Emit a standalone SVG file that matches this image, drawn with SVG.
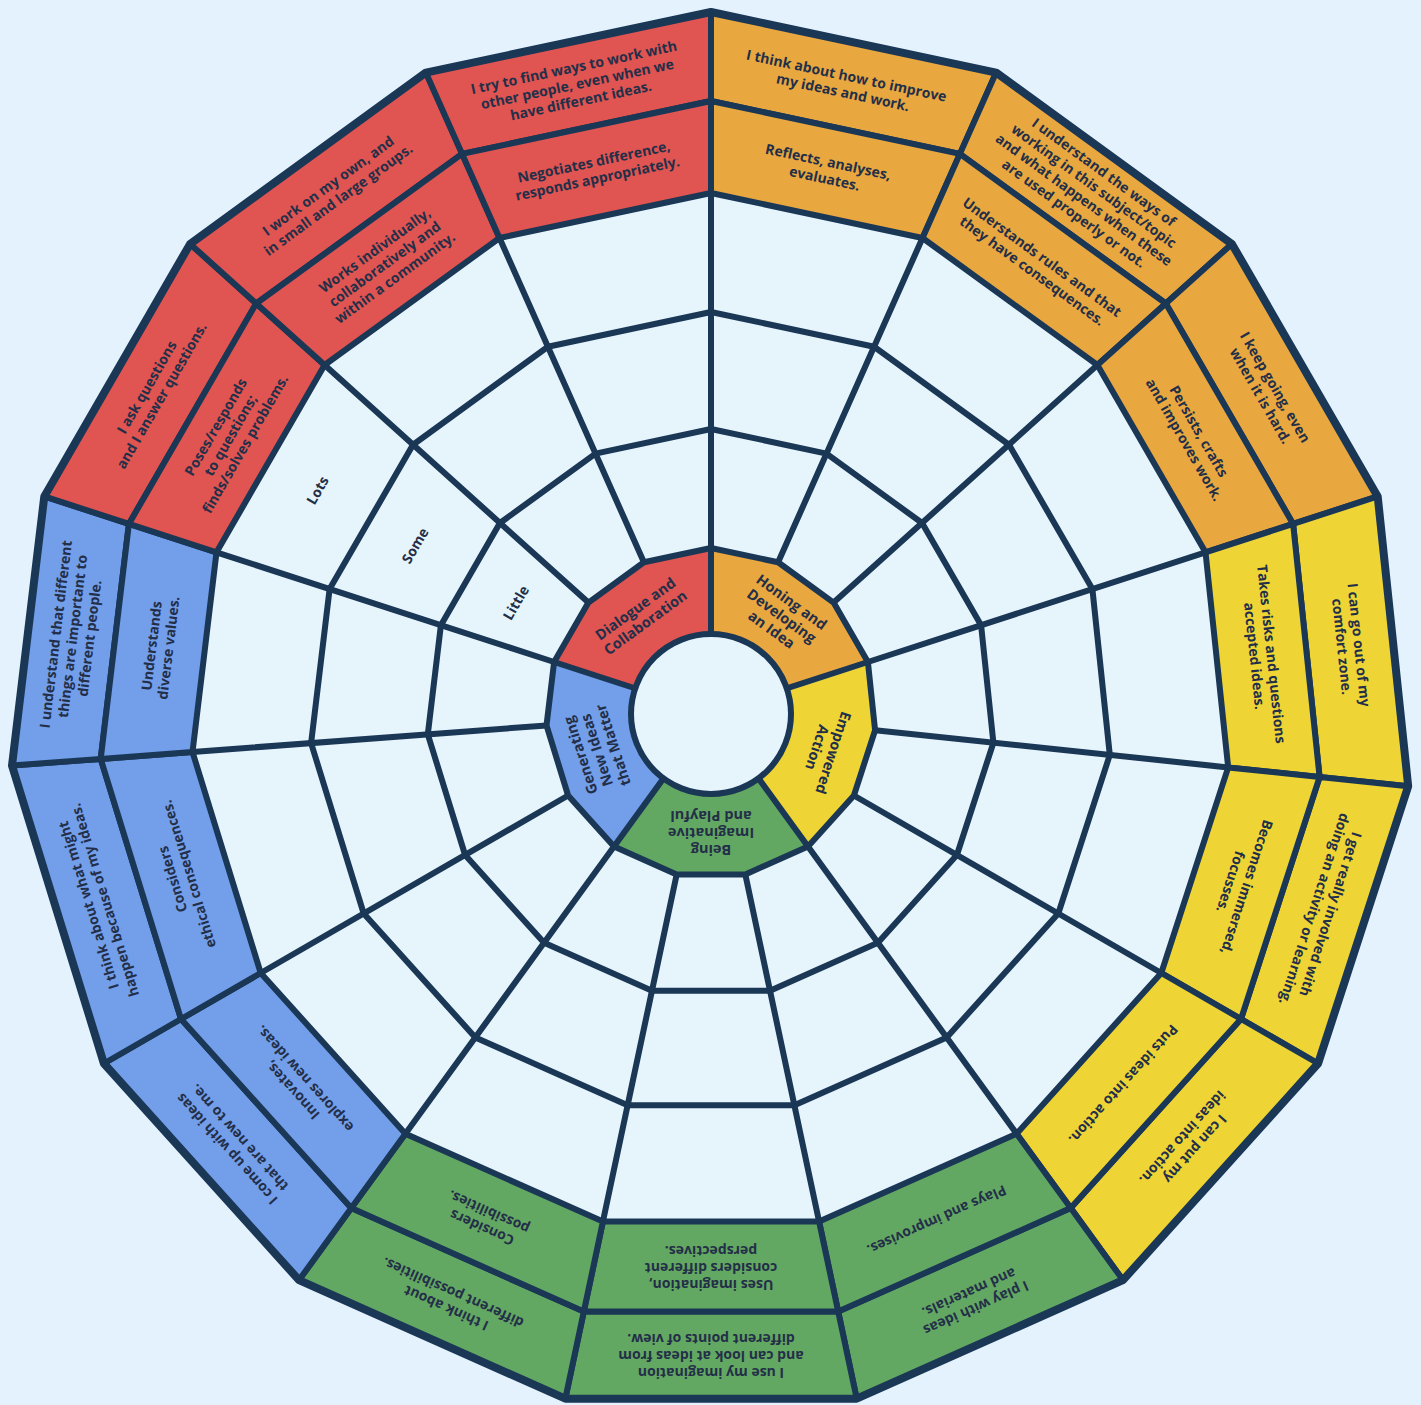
<svg xmlns="http://www.w3.org/2000/svg" width="1421" height="1405" viewBox="0 0 1421 1405">
<style>
.cell{stroke:#1b3756;stroke-width:6;stroke-linejoin:round}
.red{fill:#e05451}.org{fill:#e9a740}.yel{fill:#eed535}.grn{fill:#63a862}.blu{fill:#729eea}
.line{fill:none;stroke:#1b3756;stroke-width:6;stroke-linejoin:round;stroke-linecap:round}
.t{font-family:'Open Sans','Liberation Sans',sans-serif;font-weight:700;font-size:14px;fill:#232f48;text-anchor:middle}
.h{font-size:14.5px}
</style>
<rect width="1421" height="1405" fill="#e3f2fc"/>

<g id="web">
<polygon points="711,193 922.5,238 1097.4,365 1205.5,552.3 1228.2,767.4 1161.3,973 1016.6,1133.7 819.1,1221.6 602.9,1221.6 405.4,1133.7 260.7,973 192.5,752 216.5,552.3 324.6,365 499.5,238" fill="#e6f4fc"/>
<polygon class="line" points="711,312 874.1,346.7 1009,444.7 1092.4,589.1 1109.8,754.9 1058.3,913.5 946.7,1037.4 794.4,1105.2 627.6,1105.2 475.3,1037.4 363.7,913.5 311.1,743.1 329.6,589.1 413,444.7 547.9,346.7"/>
<polygon class="line" points="711,429 826.5,453.6 922.1,523 981.1,625.2 993.4,742.7 956.9,855 877.9,942.8 770,990.8 652,990.8 544.1,942.8 465.1,855 427.8,734.3 440.9,625.2 499.9,523 595.5,453.6"/>
<path class="line" d="M711,548 L711,193 M778.1,562.3 L922.5,238 M833.6,602.6 L1097.4,365 M867.9,662 L1205.5,552.3 M875.1,730.2 L1228.2,767.4 M853.9,795.5 L1161.3,973 M808,846.5 L1016.6,1133.7 M745.3,874.4 L819.1,1221.6 M676.7,874.4 L602.9,1221.6 M614,846.5 L405.4,1133.7 M568.1,795.5 L260.7,973 M546.5,725.4 L192.5,752 M554.1,662 L216.5,552.3 M588.4,602.6 L324.6,365 M643.9,562.3 L499.5,238"/>
</g>

<g id="scale">
<text class="t" transform="translate(317.6 490.4) rotate(300)"><tspan x="0" y="5">Lots</tspan></text>
<text class="t" transform="translate(415.1 545.6) rotate(300)"><tspan x="0" y="5">Some</tspan></text>
<text class="t" transform="translate(516 602.7) rotate(300)"><tspan x="0" y="5">Little</tspan></text>
</g>

<g id="honing-developing">
<path class="cell org" d="M711,12 L996.1,72.6 L959.9,153.9 L711,101 Z"/>
<path class="cell org" d="M996.1,72.6 L1231.9,243.9 L1165.8,303.5 L959.9,153.9 Z"/>
<path class="cell org" d="M1231.9,243.9 L1377.7,496.4 L1293.1,523.9 L1165.8,303.5 Z"/>
<path class="cell org" d="M711,101 L959.9,153.9 L922.5,238 L711,193 Z"/>
<path class="cell org" d="M959.9,153.9 L1165.8,303.5 L1097.4,365 L922.5,238 Z"/>
<path class="cell org" d="M1165.8,303.5 L1293.1,523.9 L1205.5,552.3 L1097.4,365 Z"/>
<text class="t" transform="translate(844.7 84) rotate(12)"><tspan x="0" y="-3.5">I think about how to improve</tspan><tspan x="0" y="13.5">my ideas and work.</tspan></text>
<text class="t" transform="translate(1088.9 192.8) rotate(36)"><tspan x="0" y="-20.5">I understand the ways of</tspan><tspan x="0" y="-3.5">working in this subject/topic</tspan><tspan x="0" y="13.5">and what happens when these</tspan><tspan x="0" y="30.5">are used properly or not.</tspan></text>
<text class="t" transform="translate(1267.9 391.5) rotate(60)"><tspan x="0" y="-3.5">I keep going, even</tspan><tspan x="0" y="13.5">when it is hard.</tspan></text>
<text class="t" transform="translate(826.4 170.1) rotate(12)"><tspan x="0" y="-3.5">Reflects, analyses,</tspan><tspan x="0" y="13.5">evaluates.</tspan></text>
<text class="t" transform="translate(1037.2 264) rotate(36)"><tspan x="0" y="-3.5">Understands rules and that</tspan><tspan x="0" y="13.5">they have consequences.</tspan></text>
<text class="t" transform="translate(1191.6 435.5) rotate(60)"><tspan x="0" y="-3.5">Persists, crafts</tspan><tspan x="0" y="13.5">and improves work.</tspan></text>
</g>

<g id="empowered-action">
<path class="cell yel" d="M1377.7,496.4 L1408.2,786.3 L1319.6,777 L1293.1,523.9 Z"/>
<path class="cell yel" d="M1408.2,786.3 L1318.1,1063.5 L1241,1019 L1319.6,777 Z"/>
<path class="cell yel" d="M1318.1,1063.5 L1123,1280.1 L1070.7,1208.1 L1241,1019 Z"/>
<path class="cell yel" d="M1293.1,523.9 L1319.6,777 L1228.2,767.4 L1205.5,552.3 Z"/>
<path class="cell yel" d="M1319.6,777 L1241,1019 L1161.3,973 L1228.2,767.4 Z"/>
<path class="cell yel" d="M1241,1019 L1070.7,1208.1 L1016.6,1133.7 L1161.3,973 Z"/>
<text class="t" transform="translate(1350.5 645.8) rotate(84)"><tspan x="0" y="-3.5">I can go out of my</tspan><tspan x="0" y="13.5">comfort zone.</tspan></text>
<text class="t" transform="translate(1322.5 911.7) rotate(108)"><tspan x="0" y="-3.5">I get really involved with</tspan><tspan x="0" y="13.5">doing an activity or learning.</tspan></text>
<text class="t" transform="translate(1188.8 1143.3) rotate(132)"><tspan x="0" y="-3.5">I can put my</tspan><tspan x="0" y="13.5">ideas into action.</tspan></text>
<text class="t" transform="translate(1263 655) rotate(84)"><tspan x="0" y="-3.5">Takes risks and questions</tspan><tspan x="0" y="13.5">accepted ideas.</tspan></text>
<text class="t" transform="translate(1238.8 884.5) rotate(108)"><tspan x="0" y="-3.5">Becomes immersed,</tspan><tspan x="0" y="13.5">focusses.</tspan></text>
<text class="t" transform="translate(1123.4 1084.4) rotate(132)"><tspan x="0" y="5">Puts ideas into action.</tspan></text>
</g>

<g id="imaginative-playful">
<path class="cell grn" d="M1123,1280.1 L856.7,1398.7 L838.2,1311.6 L1070.7,1208.1 Z"/>
<path class="cell grn" d="M856.7,1398.7 L565.3,1398.7 L583.8,1311.6 L838.2,1311.6 Z"/>
<path class="cell grn" d="M565.3,1398.7 L299,1280.1 L351.3,1208.1 L583.8,1311.6 Z"/>
<path class="cell grn" d="M1070.7,1208.1 L838.2,1311.6 L819.1,1221.6 L1016.6,1133.7 Z"/>
<path class="cell grn" d="M838.2,1311.6 L583.8,1311.6 L602.9,1221.6 L819.1,1221.6 Z"/>
<path class="cell grn" d="M583.8,1311.6 L351.3,1208.1 L405.4,1133.7 L602.9,1221.6 Z"/>
<text class="t" transform="translate(972.5 1300.4) rotate(156)"><tspan x="0" y="-3.5">I play with ideas</tspan><tspan x="0" y="13.5">and materials.</tspan></text>
<text class="t" transform="translate(711 1356) rotate(180)"><tspan x="0" y="-12">I use my imagination</tspan><tspan x="0" y="5">and can look at ideas from</tspan><tspan x="0" y="22">different points of view.</tspan></text>
<text class="t" transform="translate(449.5 1300.4) rotate(204)"><tspan x="0" y="-3.5">I think about</tspan><tspan x="0" y="13.5">different possibilities.</tspan></text>
<text class="t" transform="translate(936.7 1220) rotate(156)"><tspan x="0" y="5">Plays and improvises.</tspan></text>
<text class="t" transform="translate(711 1268) rotate(180)"><tspan x="0" y="-12">Uses imagination,</tspan><tspan x="0" y="5">considers different</tspan><tspan x="0" y="22">perspectives.</tspan></text>
<text class="t" transform="translate(485.3 1220) rotate(204)"><tspan x="0" y="-3.5">Considers</tspan><tspan x="0" y="13.5">possibilities.</tspan></text>
</g>

<g id="generating-new-ideas">
<path class="cell blu" d="M299,1280.1 L103.9,1063.5 L181,1019 L351.3,1208.1 Z"/>
<path class="cell blu" d="M103.9,1063.5 L12,765.6 L100.7,758.9 L181,1019 Z"/>
<path class="cell blu" d="M12,765.6 L44.3,496.4 L128.9,523.9 L100.7,758.9 Z"/>
<path class="cell blu" d="M351.3,1208.1 L181,1019 L260.7,973 L405.4,1133.7 Z"/>
<path class="cell blu" d="M181,1019 L100.7,758.9 L192.5,752 L260.7,973 Z"/>
<path class="cell blu" d="M100.7,758.9 L128.9,523.9 L216.5,552.3 L192.5,752 Z"/>
<text class="t" transform="translate(233.2 1143.3) rotate(228)"><tspan x="0" y="-3.5">I come up with ideas</tspan><tspan x="0" y="13.5">that are new to me.</tspan></text>
<text class="t" transform="translate(96.6 902.6) rotate(252.85)"><tspan x="0" y="-3.5">I think about what might</tspan><tspan x="0" y="13.5">happen because of my ideas.</tspan></text>
<text class="t" transform="translate(72.6 636.3) rotate(276.85)"><tspan x="0" y="-12">I understand that different</tspan><tspan x="0" y="5">things are important to</tspan><tspan x="0" y="22">different people.</tspan></text>
<text class="t" transform="translate(298.6 1084.4) rotate(228)"><tspan x="0" y="-3.5">Innovates,</tspan><tspan x="0" y="13.5">explores new ideas.</tspan></text>
<text class="t" transform="translate(180.7 876.7) rotate(252.85)"><tspan x="0" y="-3.5">Considers</tspan><tspan x="0" y="13.5">ethical consequences.</tspan></text>
<text class="t" transform="translate(160 646.8) rotate(276.85)"><tspan x="0" y="-3.5">Understands</tspan><tspan x="0" y="13.5">diverse values.</tspan></text>
</g>

<g id="dialogue-collaboration">
<path class="cell red" d="M44.3,496.4 L190.1,243.9 L256.2,303.5 L128.9,523.9 Z"/>
<path class="cell red" d="M190.1,243.9 L425.9,72.6 L462.1,153.9 L256.2,303.5 Z"/>
<path class="cell red" d="M425.9,72.6 L711,12 L711,101 L462.1,153.9 Z"/>
<path class="cell red" d="M128.9,523.9 L256.2,303.5 L324.6,365 L216.5,552.3 Z"/>
<path class="cell red" d="M256.2,303.5 L462.1,153.9 L499.5,238 L324.6,365 Z"/>
<path class="cell red" d="M462.1,153.9 L711,101 L711,193 L499.5,238 Z"/>
<text class="t" transform="translate(154.1 391.5) rotate(300)"><tspan x="0" y="-3.5">I ask questions</tspan><tspan x="0" y="13.5">and I answer questions.</tspan></text>
<text class="t" transform="translate(333.1 192.8) rotate(324)"><tspan x="0" y="-3.5">I work on my own, and</tspan><tspan x="0" y="13.5">in small and large groups.</tspan></text>
<text class="t" transform="translate(577.3 84) rotate(348)"><tspan x="0" y="-12">I try to find ways to work with</tspan><tspan x="0" y="5">other people, even when we</tspan><tspan x="0" y="22">have different ideas.</tspan></text>
<text class="t" transform="translate(230.4 435.5) rotate(300)"><tspan x="0" y="-12">Poses/responds</tspan><tspan x="0" y="5">to questions;</tspan><tspan x="0" y="22">finds/solves problems.</tspan></text>
<text class="t" transform="translate(384.8 264) rotate(324)"><tspan x="0" y="-12">Works individually,</tspan><tspan x="0" y="5">collaboratively and</tspan><tspan x="0" y="22">within a community.</tspan></text>
<text class="t" transform="translate(595.6 170.1) rotate(348)"><tspan x="0" y="-3.5">Negotiates difference,</tspan><tspan x="0" y="13.5">responds appropriately.</tspan></text>
</g>

<g id="hub">
<path class="red" d="M711,713 L554.1,662 L588.4,602.6 L643.9,562.3 L711,548 Z"/>
<path class="org" d="M711,713 L711,548 L778.1,562.3 L833.6,602.6 L867.9,662 Z"/>
<path class="yel" d="M711,713 L867.9,662 L875.1,730.2 L853.9,795.5 L808,846.5 Z"/>
<path class="grn" d="M711,713 L808,846.5 L745.3,874.4 L676.7,874.4 L614,846.5 Z"/>
<path class="blu" d="M711,713 L614,846.5 L568.1,795.5 L546.5,725.4 L554.1,662 Z"/>
<polygon class="line" points="711,548 778.1,562.3 833.6,602.6 867.9,662 875.1,730.2 853.9,795.5 808,846.5 745.3,874.4 676.7,874.4 614,846.5 568.1,795.5 546.5,725.4 554.1,662 588.4,602.6 643.9,562.3"/>
<path class="line" d="M711,713 L711,548 M711,713 L867.9,662 M711,713 L808,846.5 M711,713 L614,846.5 M711,713 L554.1,662"/>
<circle cx="711" cy="714" r="80" fill="#e6f4fc" stroke="#1b3756" stroke-width="6"/>
<text class="t h" transform="translate(640.5 615.9) rotate(324)"><tspan x="0" y="-3.5">Dialogue and</tspan><tspan x="0" y="13.5">Collaboration</tspan></text>
<text class="t h" transform="translate(781.5 615.9) rotate(36)"><tspan x="0" y="-12">Honing and</tspan><tspan x="0" y="5">Developing</tspan><tspan x="0" y="22">an Idea</tspan></text>
<text class="t h" transform="translate(825.1 750.1) rotate(108)"><tspan x="0" y="-3.5">Empowered</tspan><tspan x="0" y="13.5">Action</tspan></text>
<text class="t h" transform="translate(711 833) rotate(180)"><tspan x="0" y="-12">Being</tspan><tspan x="0" y="5">Imaginative</tspan><tspan x="0" y="22">and Playful</tspan></text>
<text class="t h" transform="translate(596.9 750.1) rotate(252)"><tspan x="0" y="-12">Generating</tspan><tspan x="0" y="5">New Ideas</tspan><tspan x="0" y="22">that Matter</tspan></text>
</g>

<g id="border">
<polygon points="711,12 996.1,72.6 1231.9,243.9 1377.7,496.4 1408.2,786.3 1318.1,1063.5 1123,1280.1 856.7,1398.7 565.3,1398.7 299,1280.1 103.9,1063.5 12,765.6 44.3,496.4 190.1,243.9 425.9,72.6" fill="none" stroke="#1b3756" stroke-width="8" stroke-linejoin="round"/>
</g>
</svg>
